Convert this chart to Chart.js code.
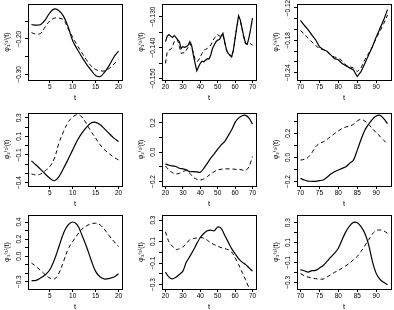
<!DOCTYPE html>
<html>
<head>
<meta charset="utf-8">
<script src="https://cdn.jsdelivr.net/npm/chart.js@4/dist/chart.umd.min.js"></script>
<style>
  body { margin: 0; background: #fff; width: 394px; height: 310px; position: relative; overflow: hidden; }
</style>
</head>
<body>
<script>
// time grids
const tA = [1, 2, 3, 4, 5, 6, 7, 8, 9, 10, 11, 12, 13, 14, 15, 16, 17, 18, 19, 20];
const tB = [20, 21, 22, 23, 24, 25, 26, 27, 28, 29, 30, 31, 32, 33, 34, 35, 36, 37, 38, 39, 40, 41, 42, 43, 44, 45,
            46, 47, 48, 49, 50, 51, 52, 53, 54, 55, 56, 57, 58, 59, 60, 61, 62, 63, 64, 65, 66, 67, 68, 69, 70];
const tB2 = [20, 22, 24, 26, 28, 30, 32, 34, 36, 38, 40, 42, 44, 46, 48, 50, 52, 54, 56, 58, 60, 62, 64, 66, 68, 70];
const tC = [70, 71, 72, 73, 74, 75, 76, 77, 78, 79, 80, 81, 82, 83, 84, 85, 86, 87, 88, 89, 90, 91, 92, 93];

// row 1
const s11 = [-0.159, -0.161, -0.159, -0.146, -0.126, -0.115, -0.120, -0.136, -0.166, -0.205, -0.229, -0.251, -0.271, -0.288, -0.303, -0.306, -0.293, -0.274, -0.251, -0.234];
const d11 = [-0.182, -0.186, -0.184, -0.166, -0.149, -0.141, -0.141, -0.146, -0.171, -0.195, -0.218, -0.239, -0.259, -0.276, -0.286, -0.290, -0.290, -0.283, -0.271, -0.259];
const s12 = [-0.1381, -0.1363, -0.1358, -0.1363, -0.1367, -0.1361, -0.1367, -0.1374, -0.1381, -0.1403, -0.1397, -0.1399, -0.1397,
             -0.1392, -0.1381, -0.1392, -0.1424, -0.1451, -0.1475, -0.1462, -0.1451, -0.1444, -0.1446, -0.1441, -0.1436, -0.1437,
             -0.1424, -0.1403, -0.1392, -0.1381, -0.1376, -0.1374, -0.1363, -0.1354, -0.1381, -0.1406, -0.1419, -0.1424, -0.1430,
             -0.1408, -0.1370, -0.1332, -0.1297, -0.1311, -0.1338, -0.1365, -0.1386, -0.1389, -0.1367, -0.1338, -0.1305];
const d12 = [-0.1451, -0.1414, -0.1408, -0.1406, -0.1397, -0.1381, -0.1374, -0.1376, -0.1397, -0.1419, -0.1417, -0.1417, -0.1408,
             -0.1399, -0.1387, -0.1397, -0.1417, -0.1438, -0.1446, -0.1441, -0.1430, -0.1419, -0.1408, -0.1406, -0.1403, -0.1399,
             -0.1392, -0.1381, -0.1370, -0.1363, -0.1357, -0.1363, -0.1363, -0.1359, -0.1383, -0.1408, -0.1421, -0.1426, -0.1430,
             -0.1410, -0.1372, -0.1334, -0.1300, -0.1314, -0.1340, -0.1367, -0.1388, -0.1390, -0.1385, -0.1388, -0.1392];
const s13 = [-0.143, -0.152, -0.160, -0.170, -0.179, -0.192, -0.197, -0.200, -0.207, -0.214, -0.216, -0.223, -0.227, -0.231, -0.235, -0.247, -0.238, -0.223, -0.207, -0.192, -0.174, -0.158, -0.142, -0.123];
const d13 = [-0.162, -0.168, -0.176, -0.183, -0.189, -0.196, -0.197, -0.201, -0.207, -0.211, -0.213, -0.218, -0.226, -0.229, -0.231, -0.238, -0.231, -0.216, -0.204, -0.192, -0.176, -0.163, -0.149, -0.133];

// row 2
const s21 = [-0.165, -0.209, -0.256, -0.306, -0.353, -0.379, -0.335, -0.245, -0.147, -0.046, 0.056, 0.135, 0.197, 0.244, 0.251, 0.225, 0.178, 0.128, 0.081, 0.045];
const d21 = [-0.306, -0.317, -0.306, -0.270, -0.227, -0.136, 0.027, 0.153, 0.251, 0.309, 0.334, 0.309, 0.236, 0.153, 0.081, 0.008, -0.046, -0.089, -0.126, -0.154];
const s22 = [-0.080, -0.089, -0.094, -0.098, -0.110, -0.114, -0.121, -0.133, -0.133, -0.135, -0.137, -0.110, -0.076, -0.041, -0.011, 0.021, 0.050, 0.073, 0.112, 0.153, 0.204, 0.233, 0.249, 0.252, 0.233, 0.192];
const d22 = [-0.094, -0.121, -0.140, -0.149, -0.144, -0.133, -0.126, -0.144, -0.172, -0.185, -0.190, -0.183, -0.167, -0.149, -0.133, -0.121, -0.117, -0.114, -0.114, -0.114, -0.117, -0.117, -0.121, -0.126, -0.098, -0.030];
const s23 = [-0.173, -0.186, -0.195, -0.197, -0.197, -0.192, -0.186, -0.164, -0.137, -0.118, -0.104, -0.090, -0.077, -0.049, -0.022, 0.060, 0.148, 0.225, 0.274, 0.315, 0.342, 0.348, 0.321, 0.279];
const d23 = [-0.022, -0.016, 0.000, 0.038, 0.088, 0.115, 0.129, 0.148, 0.175, 0.197, 0.219, 0.238, 0.252, 0.258, 0.274, 0.301, 0.315, 0.301, 0.274, 0.238, 0.205, 0.175, 0.142, 0.110];

// row 3
const s31 = [-0.289, -0.285, -0.257, -0.218, -0.160, -0.043, 0.113, 0.269, 0.366, 0.401, 0.366, 0.249, 0.113, -0.043, -0.179, -0.246, -0.269, -0.261, -0.246, -0.207];
const d31 = [-0.082, -0.121, -0.168, -0.218, -0.257, -0.269, -0.199, -0.062, 0.082, 0.172, 0.249, 0.316, 0.355, 0.378, 0.386, 0.366, 0.308, 0.238, 0.172, 0.113];
const s32 = [-0.184, -0.231, -0.247, -0.231, -0.206, -0.175, -0.091, -0.038, 0.019, 0.081, 0.138, 0.175, 0.200, 0.206, 0.200, 0.235, 0.222, 0.159, 0.097, 0.034, -0.013, -0.059, -0.091, -0.113, -0.144, -0.175];
const d32 = [0.191, 0.097, 0.056, 0.025, 0.034, 0.050, 0.081, 0.119, 0.128, 0.134, 0.138, 0.131, 0.113, 0.088, 0.072, 0.056, 0.044, 0.034, 0.025, 0.003, -0.050, -0.113, -0.184, -0.256, -0.331, -0.419];
const s33 = [-0.173, -0.183, -0.197, -0.183, -0.180, -0.157, -0.130, -0.090, -0.047, -0.007, 0.043, 0.127, 0.210, 0.267, 0.303, 0.300, 0.260, 0.193, 0.080, -0.090, -0.210, -0.270, -0.300, -0.323];
const d33 = [-0.213, -0.233, -0.247, -0.257, -0.263, -0.267, -0.267, -0.247, -0.223, -0.200, -0.180, -0.157, -0.133, -0.107, -0.073, -0.040, 0.010, 0.067, 0.127, 0.187, 0.220, 0.227, 0.217, 0.193];

// which y tick values carry a label
const yLab11 = [-0.3, -0.2];
const yLab12 = [-0.15, -0.14, -0.13];
const yLab13 = [-0.24, -0.18, -0.12];
const yLab21 = [-0.4, -0.1, 0.1, 0.3];
const yLab22 = [-0.2, 0, 0.2];
const yLab23 = [-0.2, 0, 0.2];
const yLab31 = [-0.3, 0, 0.2, 0.4];
const yLab32 = [-0.3, -0.1, 0.1, 0.3];
const yLab33 = [-0.3, -0.1, 0.1, 0.3];

// page layout (plot box edges in px)
const colLeft = [28, 162, 297], colRight = [122, 256, 391];
const rowTop = [4, 113, 215], rowBottom = [80, 186, 289];
const colX = [[0.24, 20.76, 5], [18, 72, 10], [69.08, 93.92, 5]];

const FONT = "'Liberation Sans', 'DejaVu Sans', Arial, sans-serif";
const TICK_PX = 6.5;

const panels = [
  { row: 0, col: 0, t: tA, s: s11, d: d11, y: [-0.316, -0.101], step: 0.05, lab: yLab11, dec: 2, title: 'φ₁⁽¹⁾(t)', tension: 0.4 },
  { row: 0, col: 1, t: tB, s: s12, d: d12, y: [-0.1505, -0.1259], step: 0.005, lab: yLab12, dec: 3, title: 'φ₁⁽²⁾(t)', tension: 0 },
  { row: 0, col: 2, t: tC, s: s13, d: d13, y: [-0.2535, -0.1126], step: 0.02, lab: yLab13, dec: 2, title: 'φ₁⁽³⁾(t)', tension: 0 },
  { row: 1, col: 0, t: tA, s: s21, d: d21, y: [-0.436, 0.352], step: 0.1, lab: yLab21, dec: 1, title: 'φ₂⁽¹⁾(t)', tension: 0.4 },
  { row: 1, col: 1, t: tB2, s: s22, d: d22, y: [-0.231, 0.268], step: 0.1, lab: yLab22, dec: 1, title: 'φ₂⁽²⁾(t)', tension: 0.3 },
  { row: 1, col: 2, t: tC, s: s23, d: d23, y: [-0.236, 0.367], step: 0.1, lab: yLab23, dec: 1, title: 'φ₂⁽³⁾(t)', tension: 0.3 },
  { row: 2, col: 0, t: tA, s: s31, d: d31, y: [-0.386, 0.483], step: 0.1, lab: yLab31, dec: 1, title: 'φ₃⁽¹⁾(t)', tension: 0.4 },
  { row: 2, col: 1, t: tB2, s: s32, d: d32, y: [-0.341, 0.347], step: 0.1, lab: yLab32, dec: 1, title: 'φ₃⁽²⁾(t)', tension: 0.3 },
  { row: 2, col: 2, t: tC, s: s33, d: d33, y: [-0.367, 0.377], step: 0.1, lab: yLab33, dec: 1, title: 'φ₃⁽³⁾(t)', tension: 0.3 },
];

function fmt(v, dec) {
  if (Math.abs(v) < 1e-9) v = 0;
  return v.toFixed(dec).replace('-', '\u2212');
}

// outer box like R's box()
const boxPlugin = {
  id: 'box',
  afterDraw(chart) {
    const { ctx, chartArea: a } = chart;
    ctx.save();
    ctx.strokeStyle = '#000';
    ctx.lineWidth = 1;
    ctx.strokeRect(Math.round(a.left) + 0.5, Math.round(a.top) + 0.5,
                   Math.round(a.right - a.left), Math.round(a.bottom - a.top));
    ctx.restore();
  }
};

const measure = document.createElement('canvas').getContext('2d');

panels.forEach(p => {
  const L = colLeft[p.col], R = colRight[p.col], T = rowTop[p.row], B = rowBottom[p.row];
  const w = R - L + 28 + 3, h = B - T + 4 + 24;
  const cv = document.createElement('canvas');
  cv.width = w; cv.height = h;
  cv.style.cssText = `position:absolute;left:${L - 28}px;top:${T - 4}px;width:${w}px;height:${h}px`;
  document.body.appendChild(cv);

  // centre rotated y labels about 9px left of the box
  measure.font = `${TICK_PX}px ${FONT}`;
  const widest = Math.max(...p.lab.map(v => measure.measureText(fmt(v, p.dec)).width));
  const yPad = 9 - 3 - widest / 2;

  const [xmin, xmax, xstep] = colX[p.col];

  new Chart(cv, {
    type: 'line',
    data: {
      datasets: [
        {
          data: p.t.map((x, i) => ({ x, y: p.s[i] })),
          borderColor: '#000',
          borderWidth: 1.2,
          pointRadius: 0,
          tension: p.tension,
          fill: false,
        },
        {
          data: p.t.map((x, i) => ({ x, y: p.d[i] })),
          borderColor: '#000',
          borderWidth: 1,
          borderDash: [4, 3],
          pointRadius: 0,
          tension: p.tension,
          fill: false,
        },
      ],
    },
    options: {
      responsive: false,
      animation: false,
      devicePixelRatio: 1,
      layout: { padding: { left: 0, top: 4, right: 3, bottom: 0 } },
      plugins: { legend: { display: false }, tooltip: { enabled: false } },
      scales: {
        x: {
          type: 'linear',
          min: xmin,
          max: xmax,
          afterFit: s => { s.height = 24; },
          border: { display: false },
          grid: { drawOnChartArea: false, drawTicks: true, tickLength: 3, color: '#000' },
          ticks: {
            stepSize: xstep,
            includeBounds: false,
            maxRotation: 0,
            autoSkip: false,
            padding: 0,
            color: '#000',
            font: { family: FONT, size: TICK_PX },
          },
          title: {
            display: true,
            text: 't',
            color: '#000',
            font: { family: FONT, size: 7.5 },
            padding: { top: 0, bottom: 1.5 },
          },
        },
        y: {
          type: 'linear',
          min: p.y[0],
          max: p.y[1],
          afterFit: s => { s.width = 28; },
          border: { display: false },
          grid: { drawOnChartArea: false, drawTicks: true, tickLength: 3, color: '#000' },
          ticks: {
            stepSize: p.step,
            includeBounds: false,
            autoSkip: false,
            minRotation: 90,
            maxRotation: 90,
            crossAlign: 'center',
            padding: yPad,
            color: '#000',
            font: { family: FONT, size: TICK_PX },
            callback: v => p.lab.some(l => Math.abs(l - v) < 1e-9) ? fmt(v, p.dec) : '',
          },
          title: {
            display: true,
            text: p.title,
            color: '#000',
            font: { family: FONT, size: 7 },
            padding: { top: 2.5, bottom: 0 },
          },
        },
      },
    },
    plugins: [boxPlugin],
  });
});
</script>
</body>
</html>
